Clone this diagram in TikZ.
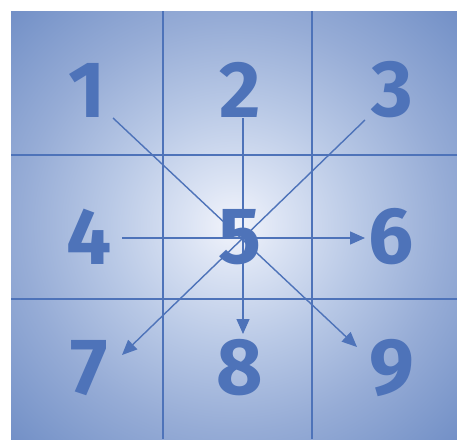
\documentclass[tikz,border=0pt]{standalone}
\usepackage{fontspec}
\setmainfont{Fira Sans}
\usetikzlibrary{arrows.meta,calc}
\definecolor{ink}{RGB}{78,115,185}
\definecolor{bgA}{RGB}{242,244,251}
\definecolor{bgB}{RGB}{220,228,244}
\definecolor{bgC}{RGB}{185,201,230}
\definecolor{bgD}{RGB}{150,172,214}
\definecolor{bgE}{RGB}{122,150,202}
\definecolor{bgF}{RGB}{88,120,186}
\pgfdeclareradialshading{bgshade}{\pgfpoint{0bp}{0bp}}{color(0bp)=(bgA); color(5bp)=(bgB); color(14bp)=(bgC); color(24bp)=(bgD); color(33bp)=(bgE); color(45bp)=(bgF); color(50bp)=(bgF)}
\tikzset{
  num/.style={text=ink, font=\fontsize{80}{80}\selectfont\bfseries, inner sep=0pt},
  gridline/.style={draw=ink, line width=1.3pt},
  arr/.style={draw=ink, line width=1.4pt, -{Triangle[length=15pt,width=13pt]}}
}
\begin{document}
\begin{tikzpicture}[x=1pt,y=-1pt]
\useasboundingbox (0,0) rectangle (457,439);
\fill[white] (0,0) rectangle (457,439);
\shade[shading=bgshade] (11,11) rectangle (457,439);
% grid
\draw[gridline] (163,11) -- (163,439);
\draw[gridline] (312,11) -- (312,439);
\draw[gridline] (11,155) -- (457,155);
\draw[gridline] (11,299) -- (457,299);
% numbers
\node[num] (n1) at (87,90) {1};
\node[num] (n2) at (240,90) {2};
\node[num] (n3) at (392,90) {3};
\node[num] (n4) at (89,237) {4};
\node[num] (n5) at (240,237) {5};
\node[num] (n6) at (391,237) {6};
\node[num] (n7) at (89,368) {7};
\node[num] (n8) at (240,368) {8};
\node[num] (n9) at (392,368) {9};
% arrows
\draw[arr] ([shift={(26,28)}]n1.center) -- ([shift={(-35,-21)}]n9.center);
\draw[arr] ([shift={(3,28)}]n2.center) -- ([shift={(3,-34)}]n8.center);
\draw[arr] ([shift={(-27,30)}]n3.center) -- ([shift={(33,-13)}]n7.center);
\draw[arr] ([shift={(33,1)}]n4.center) -- ([shift={(-26,1)}]n6.center);
\end{tikzpicture}
\end{document}
